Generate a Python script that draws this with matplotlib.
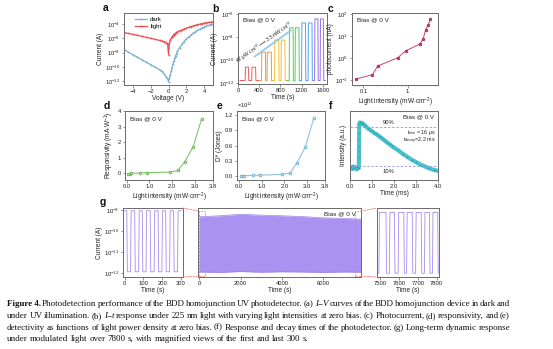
import re
import numpy as np
import matplotlib
matplotlib.use("Agg")
import matplotlib.pyplot as plt
from matplotlib.ticker import FixedLocator, NullLocator, FuncFormatter
from matplotlib.patches import Rectangle, ConnectionPatch

W, H = 553, 349
plt.rcParams["font.family"] = ["Liberation Sans", "DejaVu Sans"]
plt.rcParams["mathtext.fontset"] = "custom"
plt.rcParams["mathtext.rm"] = "Liberation Sans"
plt.rcParams["mathtext.it"] = "Liberation Sans:italic"
plt.rcParams["mathtext.bf"] = "Liberation Sans:bold"

# ---------------- data ----------------
# (a) I-V curves, log10 of current (A)
iv_voltage = [-5.0, -4.5, -4.0, -3.5, -3.0, -2.5, -2.0, -1.5, -1.0, -0.75, -0.5, -0.25, -0.1,
              0.0, 0.1, 0.2, 0.3, 0.4, 0.5, 0.6, 0.7, 0.8, 0.9, 1.0, 1.25, 1.5, 1.75, 2.0,
              2.25, 2.5, 2.75, 3.0, 3.25, 3.5, 3.75, 4.0, 4.25, 4.5, 4.75, 5.0]
iv_dark_log = [-7.55, -7.95, -8.30, -8.65, -9.00, -9.35, -9.70, -10.05, -10.40, -10.65, -10.95,
               -11.40, -11.70, -12.10, -11.60, -11.10, -10.60, -10.10, -9.65, -9.20, -8.80,
               -8.45, -8.15, -7.85, -7.30, -6.85, -6.45, -6.10, -5.80, -5.55, -5.30, -5.10,
               -4.90, -4.72, -4.55, -4.42, -4.30, -4.18, -4.08, -4.00]
iv_light_log = [-5.20, -5.32, -5.45, -5.58, -5.72, -5.86, -6.00, -6.15, -6.30, -6.38, -6.45,
                -6.60, -6.75, -8.30, -6.70, -6.30, -6.00, -5.80, -5.62, -5.48, -5.36, -5.26,
                -5.17, -5.10, -4.95, -4.82, -4.70, -4.58, -4.47, -4.37, -4.27, -4.18, -4.10,
                -4.02, -3.95, -3.88, -3.82, -3.77, -3.73, -3.70]

# (b) I-t response at stepped light intensity, log10 of current (A)
it_baseline_log = -11.75
it_segment_start = [40, 400, 660, 925, 1180, 1420]
it_segment_end = [400, 660, 925, 1180, 1420, 1650]
it_on_level_log = [-10.6, -9.3, -8.26, -7.2, -6.78, -6.43]
it_pulses = [[(135, 197), (258, 332)],
             [(443, 517), (548, 628)],
             [(690, 770), (812, 886)],
             [(966, 1040), (1077, 1151)],
             [(1200, 1274), (1323, 1397)],
             [(1446, 1508), (1551, 1612)]]

# (c)-(e) light-intensity dependence
intensity = [0.067, 0.16, 0.21, 0.6, 0.9, 1.9, 2.26, 2.56, 2.93, 3.3]
photocurrent_nA = [0.11, 0.174, 0.43, 1.03, 2.1, 4.3, 7.5, 18.7, 32.6, 57.0]
responsivity = [-0.02, -0.02, 0.0, 0.02, 0.04, 0.08, 0.18, 0.75, 1.72, 3.5]
detectivity_e12 = [0.0, 0.0, 0.005, 0.01, 0.015, 0.03, 0.06, 0.26, 0.57, 1.14]

# (f) normalised transient response
tr_time_ms = [0.00, 0.05, 0.10, 0.15, 0.20, 0.25, 0.30, 0.35, 0.40, 0.42, 0.45, 0.50, 0.55,
              0.60, 0.70, 0.80, 0.90, 1.00, 1.10, 1.20, 1.30, 1.40, 1.50, 1.60, 1.70, 1.80,
              1.90, 2.00, 2.20, 2.40, 2.60, 2.80, 3.00, 3.20, 3.40, 3.60, 3.80, 4.00]
tr_intensity = [0.05, 0.08, 0.04, 0.09, 0.05, 0.07, 0.03, 0.08, 0.06, 0.97, 1.00, 0.96, 0.99,
                0.97, 0.93, 0.88, 0.85, 0.82, 0.78, 0.76, 0.72, 0.69, 0.65, 0.62, 0.58, 0.55,
                0.51, 0.48, 0.42, 0.35, 0.29, 0.23, 0.18, 0.13, 0.09, 0.05, 0.02, 0.00]
tr_rise_time_ms = [0.41, 0.41, 0.41, 0.41, 0.41]
tr_rise_intensity = [0.28, 0.40, 0.52, 0.65, 0.78]

# (g) long-term switching, log10 of current (A)
lt_first_high_log = -9.03
lt_first_low_log = -11.94
lt_first_off = [(12, 32), (54, 75), (94, 114), (136, 157), (178, 198), (218, 239), (260, 281)]
lt_last_high_log = -9.11
lt_last_low_log = -12.01
lt_last_off = [(7478, 7492), (7530, 7548), (7575, 7595), (7625, 7640), (7670, 7688),
               (7718, 7735), (7762, 7778), (7806, 7815)]
lt_env_time = [0, 1000, 2000, 3000, 4000, 5000, 6000, 7000, 7800]
lt_env_upper_log = [-9.32, -9.27, -9.20, -9.24, -9.27, -9.31, -9.37, -9.40, -9.43]
lt_env_lower_log = [-11.95, -11.97, -11.93, -11.96, -11.94, -11.95, -11.97, -11.95, -11.96]

# ---------------- styling ----------------
SPINE = "#6a6a6a"
TXT = "#222222"
TICK_FS = 4.2
LAB_FS = 4.7

fig = plt.figure(figsize=(W / 100, H / 100), dpi=100)
fig.patch.set_facecolor("white")


def add_ax(l, t, r, b):
    return fig.add_axes([l / W, 1 - b / H, (r - l) / W, (b - t) / H])


def style(ax):
    for s in ax.spines.values():
        s.set_color(SPINE)
        s.set_linewidth(0.7)
    ax.tick_params(direction="out", length=1.8, width=0.5, color=SPINE,
                   labelsize=TICK_FS, pad=1.0, labelcolor=TXT)


def pow10(v, _):
    return r"$10^{%d}$" % int(round(np.log10(v)))


def log_ticks(ax, exps):
    ax.set_yscale("log")
    ax.yaxis.set_major_locator(FixedLocator([10.0 ** e for e in exps]))
    ax.yaxis.set_minor_locator(NullLocator())
    ax.yaxis.set_major_formatter(FuncFormatter(pow10))


def panel_letter(x, y, s):
    fig.text(x / W, 1 - y / H, s, fontsize=7.5, fontweight="bold", color="#111111",
             ha="left", va="center")


def trace(t0, t1, base, level, windows, edge):
    t, y = [t0], [base]
    for on, off in windows:
        t += [on, on + edge, off, off + edge]
        y += [base, level, level, base]
    t.append(t1)
    y.append(base)
    return t, y


# ---- (a) ----
ax = add_ax(124, 13, 213, 85)
style(ax)
ax.plot(iv_voltage, 10.0 ** np.array(iv_dark_log), "-o", color="#79b0d0", lw=0.9, ms=1.3,
        mew=0, label="dark")
ax.plot(iv_voltage, 10.0 ** np.array(iv_light_log), "-o", color="#ee4c4f", lw=0.9, ms=1.3,
        mew=0, label="light")
log_ticks(ax, [-12, -10, -8, -6, -4])
ax.set_ylim(10 ** -12.55, 10 ** -2.45)
ax.set_xlim(-5, 5)
ax.set_xticks([-4, -2, 0, 2, 4])
ax.set_xlabel("Voltage (V)", fontsize=LAB_FS, labelpad=1.0, color=TXT)
ax.set_ylabel("Current (A)", fontsize=LAB_FS, labelpad=0.5, color=TXT)
ax.legend(loc="upper left", bbox_to_anchor=(0.08, 1.0), frameon=False, fontsize=4.3,
          handlelength=2.0, handletextpad=0.5, labelspacing=0.3, borderaxespad=0.3)
panel_letter(103, 8, "a")

# ---- (b) ----
ax = add_ax(238, 13, 327, 84)
style(ax)
it_colors = ["#f05a52", "#f7943e", "#f2c02c", "#53d14f", "#4ea2ee", "#9a6ff0"]
for i in range(len(it_segment_start)):
    t, y = trace(it_segment_start[i], it_segment_end[i], it_baseline_log,
                 it_on_level_log[i], it_pulses[i], 6)
    ax.plot(t, 10.0 ** np.array(y), color=it_colors[i], lw=0.7)
log_ticks(ax, [-12, -10, -8, -6])
ax.set_ylim(10 ** -12.05, 10 ** -5.92)
ax.set_xlim(0, 1680)
ax.set_xticks([0, 400, 800, 1200, 1600])
ax.set_xlabel("Time (s)", fontsize=LAB_FS, labelpad=1.0, color=TXT)
ax.set_ylabel("Current (A)", fontsize=LAB_FS, labelpad=0.5, color=TXT)
ax.text(0.06, 0.9, "Bias @ 0 V", transform=ax.transAxes, fontsize=4.6, color=TXT,
        ha="left", va="center")
ax.plot([0.18, 0.60], [0.38, 0.76], transform=ax.transAxes, color="#8ccbf0", lw=1.3,
        solid_capstyle="butt")
ax.text(0.30, 0.58, r"67 $\mu$W cm$^{-2}$$\longrightarrow$3.3 mW cm$^{-2}$",
        transform=ax.transAxes, fontsize=3.6, color=TXT, rotation=35,
        ha="center", va="center", rotation_mode="anchor")
panel_letter(212, 9, "b")

# ---- (c) ----
ax = add_ax(352, 13, 438, 85)
style(ax)
ax.plot(intensity, photocurrent_nA, "-o", color="#c9456b", lw=0.7, ms=2.0, mew=0.4,
        mec="#8a1f40")
ax.set_xscale("log")
ax.xaxis.set_major_locator(FixedLocator([0.1, 1]))
ax.xaxis.set_minor_locator(FixedLocator([0.06, 0.07, 0.08, 0.09, 0.2, 0.3, 0.4, 0.5, 0.6,
                                         0.7, 0.8, 0.9, 2, 3, 4]))
ax.xaxis.set_major_formatter(FuncFormatter(lambda v, _: "%g" % v))
ax.tick_params(axis="x", which="minor", length=1.0, width=0.4, color=SPINE)
log_ticks(ax, [-1, 0, 1, 2])
ax.set_ylim(10 ** -1.23, 10 ** 2.05)
ax.set_xlim(0.055, 4.9)
ax.set_xlabel(r"Light intensity (mW$\cdot$cm$^{-2}$)", fontsize=LAB_FS, labelpad=1.0,
              color=TXT)
ax.set_ylabel("photocurrent (nA)", fontsize=LAB_FS, labelpad=0.5, color=TXT)
ax.text(0.06, 0.9, "Bias @ 0 V", transform=ax.transAxes, fontsize=4.6, color=TXT,
        ha="left", va="center")
panel_letter(328, 9, "c")

# ---- (d) ----
ax = add_ax(125, 111, 213, 180)
style(ax)
ax.plot(intensity, responsivity, "-o", color="#7cc66a", lw=0.8, ms=2.0, mfc="#bfe3b3",
        mec="#5aa84a", mew=0.5)
ax.set_xlim(-0.07, 3.8)
ax.set_ylim(-0.43, 4.0)
ax.set_xticks([0.0, 1.0, 2.0, 3.0, 3.8])
ax.xaxis.set_major_formatter(FuncFormatter(lambda v, _: "%.1f" % v))
ax.set_yticks([0, 1, 2, 3, 4])
ax.set_xlabel(r"Light intensity (mW$\cdot$cm$^{-2}$)", fontsize=LAB_FS, labelpad=1.0,
              color=TXT)
ax.set_ylabel(r"Responsivity (mA$\cdot$W$^{-1}$)", fontsize=LAB_FS, labelpad=1.5, color=TXT)
ax.text(0.06, 0.88, "Bias @ 0 V", transform=ax.transAxes, fontsize=4.6, color=TXT,
        ha="left", va="center")
panel_letter(104, 106, "d")

# ---- (e) ----
ax = add_ax(237, 111, 325, 180)
style(ax)
ax.plot(intensity, detectivity_e12, "-o", color="#8cc4e0", lw=0.8, ms=2.0, mfc="#cbe5f2",
        mec="#5fa4c8", mew=0.5)
ax.set_xlim(-0.1, 3.8)
ax.set_ylim(-0.08, 1.28)
ax.set_xticks([0.0, 1.0, 2.0, 3.0, 3.8])
ax.xaxis.set_major_formatter(FuncFormatter(lambda v, _: "%.1f" % v))
ax.set_yticks([0.0, 0.3, 0.6, 0.9, 1.2])
ax.yaxis.set_major_formatter(FuncFormatter(lambda v, _: "%.1f" % v))
ax.set_xlabel(r"Light intensity (mW$\cdot$cm$^{-2}$)", fontsize=LAB_FS, labelpad=1.0,
              color=TXT)
ax.set_ylabel("D* (Jones)", fontsize=LAB_FS, labelpad=1.5, color=TXT)
ax.text(0.0, 1.02, r"$\times$10$^{12}$", transform=ax.transAxes, fontsize=4.0, color=TXT,
        ha="left", va="bottom")
ax.text(0.06, 0.88, "Bias @ 0 V", transform=ax.transAxes, fontsize=4.6, color=TXT,
        ha="left", va="center")
panel_letter(217, 106, "e")

# ---- (f) ----
ax = add_ax(350, 111, 438, 180)
style(ax)
ax.plot(tr_time_ms, tr_intensity, color="#2bb7c2", lw=3.0, alpha=0.85,
        solid_joinstyle="round")
ax.plot(tr_time_ms, tr_intensity, "s", color="#1aa6b3", ms=1.0, mew=0)
ax.plot(tr_rise_time_ms, tr_rise_intensity, "s", color="#2bb7c2", ms=1.2, mew=0)
for lvl in (0.9, 0.1):
    ax.axhline(lvl, color="#8f98dc", lw=0.6, ls=(0, (3, 2)))
ax.set_xlim(0, 4.0)
ax.set_ylim(-0.19, 1.235)
ax.set_xticks([0.0, 1.0, 2.0, 3.0, 4.0])
ax.xaxis.set_major_formatter(FuncFormatter(lambda v, _: "%.1f" % v))
ax.set_yticks([])
ax.set_xlabel("Time (ms)", fontsize=LAB_FS, labelpad=1.0, color=TXT)
ax.set_ylabel("Intensity (a.u.)", fontsize=LAB_FS, labelpad=2.0, color=TXT)
ax.text(0.95, 0.92, "Bias @ 0 V", transform=ax.transAxes, fontsize=4.4, color=TXT,
        ha="right", va="center")
ax.text(1.75, 0.95, "90%", fontsize=4.2, color=TXT, ha="center", va="bottom")
ax.text(1.75, 0.04, "10%", fontsize=4.2, color=TXT, ha="center", va="top")
ax.text(3.9, 0.80, r"t$_{\rm rise}$ = 16 $\mu$s", fontsize=3.9, color=TXT, ha="right",
        va="center")
ax.text(3.9, 0.62, r"t$_{\rm decay}$=2.2 ms", fontsize=3.9, color=TXT, ha="right",
        va="center")
panel_letter(329, 106, "f")

# ---- (g) ----
G_COL = "#a68cf0"
RED_DASH = "#f07f7f"
gy_lim = (10 ** -12.19, 10 ** -8.9)

g1 = add_ax(123, 208, 183, 277)
style(g1)
t, y = trace(0, 300, lt_first_high_log, lt_first_low_log, lt_first_off, 3)
g1.plot(t, 10.0 ** np.array(y), color=G_COL, lw=0.6)
log_ticks(g1, [-12, -11, -10, -9])
g1.set_ylim(*gy_lim)
g1.set_xlim(-8, 310)
g1.set_xticks([0, 100, 200, 300])
g1.set_xlabel("Time (s)", fontsize=LAB_FS, labelpad=1.0, color=TXT)
g1.set_ylabel("Current (A)", fontsize=LAB_FS, labelpad=0.5, color=TXT)
panel_letter(100, 202, "g")

g2 = add_ax(198, 208, 361, 277)
style(g2)
g2.fill_between(lt_env_time, 10.0 ** np.array(lt_env_lower_log),
                10.0 ** np.array(lt_env_upper_log), color=G_COL, lw=0, alpha=0.95)
g2.plot(lt_env_time, 10.0 ** np.array(lt_env_upper_log), color="#9c80ea", lw=0.5)
g2.plot(lt_env_time, 10.0 ** np.array(lt_env_lower_log), color="#9c80ea", lw=0.5)
g2.set_yscale("log")
g2.set_ylim(*gy_lim)
g2.yaxis.set_major_locator(NullLocator())
g2.yaxis.set_minor_locator(NullLocator())
g2.set_xlim(-50, 7810)
g2.set_xticks([0, 2000, 4000, 6000])
g2.set_xlabel("Time (s)", fontsize=LAB_FS, labelpad=1.0, color=TXT)
g2.text(0.97, 0.92, "Bias @ 0 V", transform=g2.transAxes, fontsize=4.6, color=TXT,
        ha="right", va="center")
rect_lo, rect_hi = 10 ** -12.15, 10 ** -9.05
for x0 in (0, 7500):
    g2.add_patch(Rectangle((x0, rect_lo), 300, rect_hi - rect_lo, fill=False,
                           ec=RED_DASH, lw=0.6, ls=(0, (2.5, 1.5))))

g3 = add_ax(377, 208, 439, 277)
style(g3)
t, y = trace(7478, 7815, lt_last_high_log, lt_last_low_log, lt_last_off, 3)
g3.plot(t, 10.0 ** np.array(y), color=G_COL, lw=0.6)
g3.set_yscale("log")
g3.set_ylim(*gy_lim)
g3.yaxis.set_major_locator(NullLocator())
g3.yaxis.set_minor_locator(NullLocator())
g3.set_xlim(7482, 7813)
g3.set_xticks([7500, 7600, 7700, 7800])
g3.set_xlabel("Time (s)", fontsize=LAB_FS, labelpad=1.0, color=TXT)

for (xa, ya), (xb, yb), a_ax, b_ax in [
        ((1, 1), (0, rect_hi), g1, g2), ((1, 0), (0, rect_lo), g1, g2),
        ((7800, rect_hi), (0, 1), g2, g3), ((7800, rect_lo), (0, 0), g2, g3)]:
    ca = "axes fraction" if a_ax is g1 else "data"
    cb = "data" if b_ax is g2 else "axes fraction"
    con = ConnectionPatch(xyA=(xa, ya), coordsA=ca, axesA=a_ax,
                          xyB=(xb, yb), coordsB=cb, axesB=b_ax,
                          color=RED_DASH, lw=0.6, ls=(0, (2.5, 1.5)))
    fig.add_artist(con)

# ---------------- caption ----------------
caption_lines = [
    "**Figure~4.** Photodetection performance of the BDD homojunction UV photodetector. (a) *I*−*V* curves of the BDD homojunction device in dark and",
    "under UV illumination. (b) *I*−*t* response under 225 nm light with varying light intensities at zero bias. (c) Photocurrent, (d) responsivity, and (e)",
    "detectivity as functions of light power density at zero bias. (f) Response and decay times of the photodetector. (g) Long-term dynamic response",
    "under modulated light over 7800 s, with magnified views of the first and last 300 s.",
]
CAP_FS = 6.5
CAP_X0, CAP_X1 = 7, 510
CAP_BASE = [306.5, 318.0, 329.5, 341.0]

renderer = fig.canvas.get_renderer()


def fragments(word):
    out = []
    for m in re.finditer(r"\*\*(.+?)\*\*|\*(.+?)\*|([^*]+)", word):
        if m.group(1):
            out.append((m.group(1).replace("~", " "), "bold", "normal"))
        elif m.group(2):
            out.append((m.group(2), "normal", "italic"))
        else:
            out.append((m.group(3), "normal", "normal"))
    return out


def make_text(s, weight, style_):
    return fig.text(0, 0, s, fontsize=CAP_FS, family=["Liberation Serif", "DejaVu Serif"],
                    fontweight=weight, fontstyle=style_, color="#111111",
                    ha="left", va="baseline")


probe = make_text("a a", "normal", "normal")
w_aa = probe.get_window_extent(renderer).width
probe.set_text("aa")
space_w = w_aa - probe.get_window_extent(renderer).width
probe.remove()

for li, line in enumerate(caption_lines):
    words = []
    for wd in line.split(" "):
        parts = []
        width = 0.0
        for s, wt, st in fragments(wd):
            tx = make_text(s, wt, st)
            w = tx.get_window_extent(renderer).width
            parts.append((tx, w))
            width += w
        words.append((parts, width))
    total = sum(w for _, w in words)
    if li < len(caption_lines) - 1 and len(words) > 1:
        gap = (CAP_X1 - CAP_X0 - total) / (len(words) - 1)
    else:
        gap = space_w
    x = CAP_X0
    for parts, width in words:
        xx = x
        for tx, w in parts:
            tx.set_position((xx / W, 1 - CAP_BASE[li] / H))
            xx += w
        x += width + gap

fig.savefig("out.png", dpi=100, facecolor="white")
